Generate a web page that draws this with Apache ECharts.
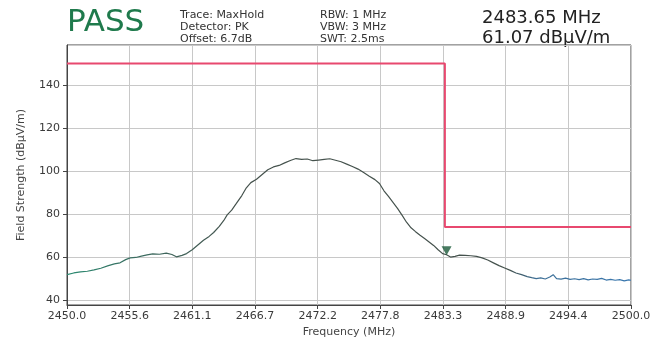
<!DOCTYPE html>
<html>
<head>
<meta charset="utf-8">
<script src="https://cdn.jsdelivr.net/npm/echarts@6/dist/echarts.min.js"></script>
<style>
  html, body { margin: 0; padding: 0; background: #fff; }
  #chart { width: 665px; height: 344px; }
</style>
</head>
<body>
<div id="chart"></div>
<script>
// trace (MaxHold)
var freqs = [
  2450.0, 2450.6, 2451.2, 2451.8, 2452.4, 2453.0, 2453.6, 2454.2, 2454.7, 2455.2,
  2455.6, 2456.1, 2456.6, 2457.1, 2457.6, 2458.2, 2458.8, 2459.3, 2459.7, 2460.2,
  2460.6, 2461.1, 2461.6, 2462.1, 2462.6, 2463.0, 2463.5, 2463.9, 2464.2, 2464.6,
  2465.0, 2465.5, 2465.9, 2466.3, 2466.8, 2467.3, 2467.8, 2468.3, 2468.8, 2469.3,
  2469.8, 2470.3, 2470.8, 2471.3, 2471.8, 2472.3, 2472.8, 2473.3, 2473.8, 2474.3,
  2474.8, 2475.3, 2475.8, 2476.3, 2476.8, 2477.3, 2477.7, 2478.1, 2478.5, 2478.9,
  2479.3, 2479.7, 2480.1, 2480.5, 2480.9, 2481.3, 2481.7, 2482.1, 2482.5, 2482.9,
  2483.3, 2483.65, 2484.0, 2484.4, 2484.8, 2485.3, 2485.8, 2486.3, 2486.8, 2487.3,
  2487.8, 2488.3, 2488.8, 2489.3, 2489.8, 2490.3, 2490.8, 2491.2, 2491.6, 2492.0,
  2492.4, 2492.8, 2493.1, 2493.4, 2493.8, 2494.2, 2494.6, 2495.0, 2495.4, 2495.8,
  2496.2, 2496.6, 2497.0, 2497.4, 2497.8, 2498.2, 2498.6, 2499.0, 2499.4, 2499.8,
  2500.0
];
var levels = [
  51.8, 52.6, 53.1, 53.4, 54.0, 54.8, 55.9, 56.8, 57.3, 58.8,
  59.6, 59.8, 60.4, 61.0, 61.5, 61.3, 61.8, 61.2, 60.1, 60.8,
  61.6, 63.4, 65.6, 67.8, 69.6, 71.4, 74.3, 77.0, 79.6, 81.8,
  84.8, 88.6, 92.2, 94.6, 96.2, 98.4, 100.6, 101.9, 102.6, 103.8,
  104.9, 105.8, 105.4, 105.6, 104.8, 105.1, 105.4, 105.7, 105.0, 104.3,
  103.2, 102.1, 100.9, 99.3, 97.6, 96.0, 94.2, 90.8, 88.2, 85.4,
  82.6, 79.5, 76.2, 73.6, 71.8, 70.1, 68.6, 67.0, 65.4, 63.4,
  61.6, 61.07, 60.0, 60.3, 60.9, 60.8, 60.6, 60.3, 59.6, 58.6,
  57.3, 56.0, 54.9, 53.8, 52.6, 51.8, 50.9, 50.4, 50.0, 50.3,
  49.8, 50.7, 51.8, 50.0, 49.7, 50.2, 49.6, 49.9, 49.5, 50.0,
  49.4, 49.8, 49.6, 50.1, 49.3, 49.6, 49.2, 49.5, 48.9, 49.4,
  49.2
];

// limit line
var limitFreqs = [2450.0, 2483.5, 2483.5, 2500.0];
var limitLevels = [150, 150, 74, 74];

// marker
var markerFreq = 2483.65;
var markerLevel = 61.07;

var headerLeft = ['Trace: MaxHold', 'Detector: PK', 'Offset: 6.7dB'];
var headerMid = ['RBW: 1 MHz', 'VBW: 3 MHz', 'SWT: 2.5ms'];
var headerRight = ['2483.65 MHz', '61.07 dBµV/m'];

var chart = echarts.init(document.getElementById('chart'));

var font = 'DejaVu Sans';

var option = {
  backgroundColor: '#fff',
  animation: false,
  textStyle: { fontFamily: font },
  grid: { left: 67, right: 34, top: 45, bottom: 39, show: true, borderColor: '#444', borderWidth: 1 },
  graphic: [
    { type: 'text', left: 67, top: 7, style: { text: 'PASS', fill: '#1f7a4c', font: '31px DejaVu Sans' } },
    { type: 'text', left: 180, top: 9, style: { text: headerLeft.join('\n'), fill: '#333', font: '11px DejaVu Sans', lineHeight: 12 } },
    { type: 'text', left: 320, top: 9, style: { text: headerMid.join('\n'), fill: '#333', font: '11px DejaVu Sans', lineHeight: 12 } },
    { type: 'text', left: 482, top: 8, style: { text: headerRight.join('\n'), fill: '#222', font: '18px DejaVu Sans', lineHeight: 20 } }
  ],
  xAxis: {
    type: 'value',
    min: 2450,
    max: 2500,
    interval: 50 / 9,
    name: 'Frequency (MHz)',
    nameLocation: 'middle',
    nameGap: 20,
    nameTextStyle: { color: '#444', fontSize: 11, fontFamily: font },
    axisLine: { show: true, lineStyle: { color: '#444' } },
    axisTick: { show: true, length: 4, lineStyle: { color: '#444' } },
    axisLabel: {
      color: '#3a3a3a', fontSize: 11, fontFamily: font, margin: 6,
      formatter: function (v) { return v.toFixed(1); }
    },
    splitLine: { show: true, lineStyle: { color: '#c8c8c8' } }
  },
  yAxis: {
    type: 'value',
    min: 37.7,
    max: 158.6,
    splitNumber: 6,
    name: 'Field Strength (dBµV/m)',
    nameLocation: 'middle',
    nameGap: 40,
    nameTextStyle: { color: '#444', fontSize: 11, fontFamily: font },
    axisLine: { show: true, lineStyle: { color: '#444' } },
    axisTick: { show: true, length: 4, lineStyle: { color: '#444' } },
    axisLabel: {
      color: '#3a3a3a', fontSize: 11, fontFamily: font, margin: 7,
      showMinLabel: false, showMaxLabel: false
    },
    splitLine: { show: true, lineStyle: { color: '#c8c8c8' } }
  },
  series: [
    {
      name: 'Limit',
      type: 'line',
      symbol: 'none',
      data: limitFreqs.map(function (f, i) { return [f, limitLevels[i]]; }),
      lineStyle: { color: '#e8486f', width: 2 },
      z: 3
    },
    {
      name: 'Trace',
      type: 'line',
      symbol: 'none',
      data: freqs.map(function (f, i) { return [f, levels[i]]; }),
      lineStyle: {
        width: 1.2,
        color: new echarts.graphic.LinearGradient(0, 0, 1, 0, [
          { offset: 0, color: '#2a8c72' },
          { offset: 0.12, color: '#3b6e62' },
          { offset: 0.3, color: '#45524d' },
          { offset: 0.78, color: '#45524d' },
          { offset: 0.83, color: '#3d6f96' },
          { offset: 1, color: '#3a78b0' }
        ])
      },
      z: 4
    },
    {
      name: 'Marker',
      type: 'scatter',
      symbol: 'triangle',
      symbolRotate: 180,
      symbolSize: [10, 9],
      symbolOffset: [0, -4],
      itemStyle: { color: '#1a5a3a' },
      data: [[markerFreq, markerLevel]],
      z: 5
    }
  ]
};

chart.setOption(option);
</script>
</body>
</html>
